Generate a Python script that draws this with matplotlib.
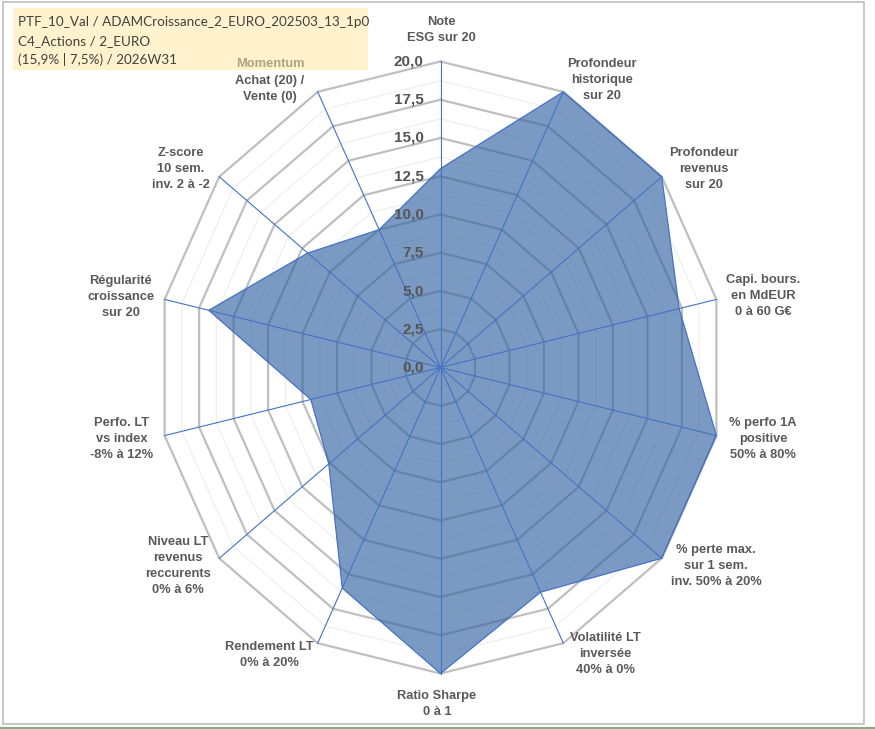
import numpy as np
import matplotlib.pyplot as plt
from matplotlib.patches import Polygon, Rectangle

plt.rcParams['font.family'] = ['Liberation Sans', 'DejaVu Sans']

# --- data ---
categories = ["Note\nESG sur 20",
              "Profondeur\nhistorique\nsur 20",
              "Profondeur\nrevenus\nsur 20",
              "Capi. bours.\nen MdEUR\n0 à 60 G€",
              "% perfo 1A\npositive\n50% à 80%",
              "% perte max.\nsur 1 sem.\ninv. 50% à 20%",
              "Volatilité LT\ninversée\n40% à 0%",
              "Ratio Sharpe\n0 à 1",
              "Rendement LT\n0% à 20%",
              "Niveau LT\nrevenus\nreccurents\n0% à 6%",
              "Perfo. LT\nvs index\n-8% à 12%",
              "Régularité\ncroissance\nsur 20",
              "Z-score\n10 sem.\ninv. 2 à -2",
              "Achat (20) /\nVente (0)"]
values = [13.0, 20.0, 20.0, 17.3, 20.0, 20.0, 16.3, 20.0, 16.0, 10.1, 9.4, 16.8, 12.0, 10.0]
ticks = [0, 2.5, 5, 7.5, 10, 12.5, 15, 17.5, 20]
tick_labels = ["0,0", "2,5", "5,0", "7,5", "10,0", "12,5", "15,0", "17,5", "20,0"]
title_lines = ["PTF_10_Val / ADAMCroissance_2_EURO_202503_13_1p0",
               "C4_Actions / 2_EURO",
               "(15,9% | 7,5%) / 2026W31"]

# label centres in pixels (x, y from top)
label_pos = [(441, 30), (602, 80), (704, 169), (763, 296), (763, 439),
             (716, 566), (605, 654), (437, 704), (269, 655), (178, 566),
             (122, 439), (121, 297), (181, 169), (270, 89)]

W, H = 875, 729
cx, cy = 440.5, 367.5
sy = 306 / 20.0
sx = 283 / 20.0

fig = plt.figure(figsize=(W / 100, H / 100), dpi=100)
ax = fig.add_axes([0, 0, 1, 1])
ax.set_xlim(-cx / sx, (W - cx) / sx)
ax.set_ylim((cy - H) / sy, cy / sy)
ax.axis('off')

n = len(values)
theta = np.arange(n) * 2 * np.pi / n


def ring(r):
    x = list(r * np.sin(theta)) + [0]
    y = list(r * np.cos(theta)) + [0]
    x[-1], y[-1] = x[0], y[0]
    return x, y


# minor rings
for r in np.arange(1.25, 20, 2.5):
    x, y = ring(r)
    ax.plot(x, y, color='#EDEDED', lw=0.8, zorder=1)
# major rings
for r in ticks[1:]:
    x, y = ring(r)
    ax.plot(x, y, color='#BFBFBF', lw=1.6, zorder=2)

v = np.array(values)
px = v * np.sin(theta)
py = v * np.cos(theta)
ax.add_patch(Polygon(np.column_stack([px, py]), closed=True, facecolor='#2F60A0',
                     alpha=0.63, edgecolor='none', zorder=3))
ax.add_patch(Polygon(np.column_stack([px, py]), closed=True, facecolor='none',
                     edgecolor='#4472C4', lw=0.9, zorder=5))

# spokes
for t in theta:
    ax.plot([0, 20 * np.sin(t)], [0, 20 * np.cos(t)], color='#4472C4', lw=0.8, zorder=4)

# radial tick labels
for r, lab in zip(ticks, tick_labels):
    ax.text(-1.2, r, lab, ha='right', va='center', fontsize=11,
            fontweight='bold', color='#555555', zorder=6)


def fx(p):
    return p / W


def fy(p):
    return 1 - p / H


# category labels
for lab, (lx, ly) in zip(categories, label_pos):
    fig.text(fx(lx), fy(ly), lab, ha='center', va='center', multialignment='center',
             fontsize=9.3, fontweight='bold', color='#595959', linespacing=1.45, zorder=7)

# title box
fig.patches.append(Rectangle((fx(13), fy(70)), (368 - 13) / W, (70 - 8) / H,
                             transform=fig.transFigure, facecolor='#FFF2CC',
                             edgecolor='none', zorder=0))
for i, line in enumerate(title_lines):
    fig.text(fx(18), fy(22 + 19 * i), line, ha='left', va='center', fontsize=9.7,
             family=['Lato', 'DejaVu Sans'], color='#404040', zorder=8)
fig.text(fx(270), fy(64), "Momentum", ha='center', va='center', fontsize=9.3,
         fontweight='bold', color='#AFA57F', zorder=8)

# frame
fig.patches.append(Rectangle((fx(3), fy(724)), (864 - 3) / W, (724 - 1.5) / H,
                             transform=fig.transFigure, facecolor='none',
                             edgecolor='#BFBFBF', lw=1.2, zorder=0))
fig.lines.append(plt.Line2D([0, 1], [fy(727.5), fy(727.5)], transform=fig.transFigure,
                            color='#6E9E6E', lw=1.2))

fig.savefig('out.png', dpi=100, facecolor='white')
